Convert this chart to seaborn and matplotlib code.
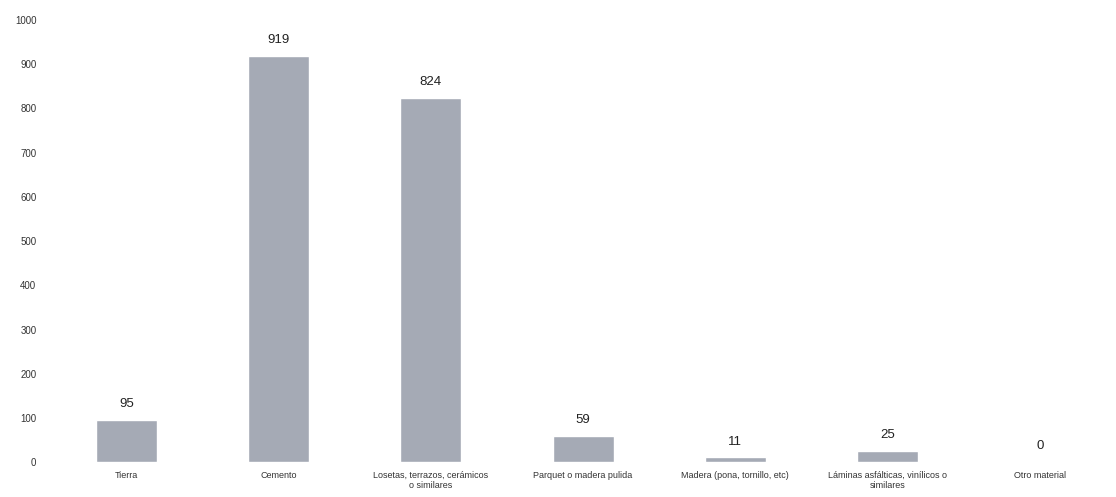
import matplotlib
matplotlib.use("Agg")
import matplotlib.pyplot as plt
import seaborn as sns
import pandas as pd

categorias = ["Tierra", "Cemento", "Losetas, terrazos, cerámicos\no similares",
              "Parquet o madera pulida", "Madera (pona, tornillo, etc)",
              "Láminas asfálticas, vinílicos o\nsimilares", "Otro material"]
viviendas = [95, 919, 824, 59, 11, 25, 0]
ticks_y = [0, 100, 200, 300, 400, 500, 600, 700, 800, 900, 1000]

df = pd.DataFrame({"categoria": categorias, "viviendas": viviendas})

sns.set_style("white")
plt.rcParams['font.family'] = ['Liberation Sans Narrow', 'Liberation Sans', 'DejaVu Sans']

fig = plt.figure(figsize=(11.16, 4.97), dpi=100)
ax = fig.add_axes([0.045, 0.07, 0.955, 0.89])

sns.barplot(data=df, x="categoria", y="viviendas", color="#a5aab5",
            saturation=1, width=0.4, ax=ax)

# etiquetas de valor encima de cada barra
for i, v in enumerate(viviendas):
    ax.annotate(str(v), (i, v), xytext=(0, 7), textcoords="offset points",
                ha="center", va="bottom", fontsize=9.5, color="#222222")

ax.set_ylim(0, 1000)
ax.set_yticks(ticks_y)
ax.set_xlim(-0.5, len(categorias) - 0.5)
ax.tick_params(axis="y", labelsize=7, length=0, pad=10, colors="#333333")
ax.tick_params(axis="x", labelsize=6.5, length=0, pad=6, colors="#333333")
ax.set_xlabel("")
ax.set_ylabel("")
for s in ax.spines.values():
    s.set_visible(False)

plt.savefig("out.png", dpi=100)
